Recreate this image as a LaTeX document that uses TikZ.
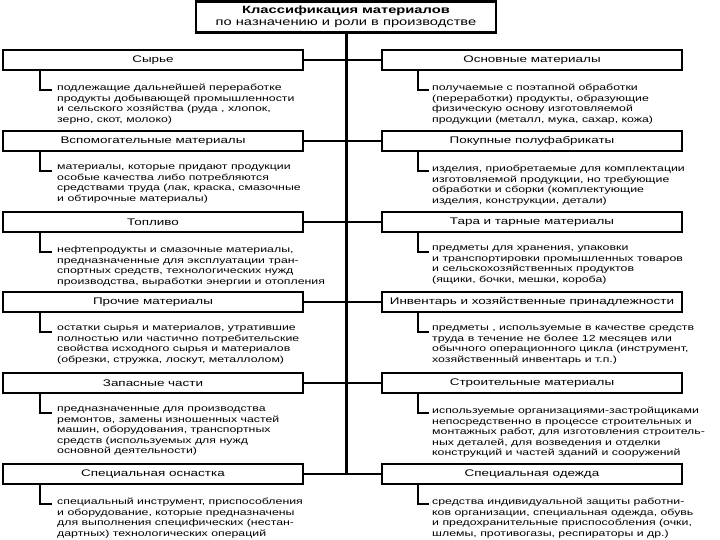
\documentclass[tikz,border=0pt]{standalone}
\usepackage{fontspec}
\setmainfont[FakeStretch=1.4]{Liberation Sans}
\begin{document}
\begin{tikzpicture}[x=1pt,y=-1pt,
  hbox/.style={draw, line width=2.4pt, minimum width=300pt, minimum height=20pt, inner sep=0pt, font=\fontsize{9.6}{11}\selectfont},
  tbox/.style={draw, line width=2.4pt, minimum width=300pt, minimum height=31pt, inner sep=0pt, align=center, font=\fontsize{10.5}{11.5}\selectfont},
  desc/.style={anchor=north west, align=left, inner sep=0pt, font=\fontsize{8.8}{10.5}\selectfont},
  trunk/.style={line width=3pt},
  branch/.style={line width=1.4pt},
  lconn/.style={line width=2.2pt}
]
\useasboundingbox (0,0) rectangle (720,540);
\node[tbox] (t) at (346,17) {\textbf{Классификация материалов}\\по назначению и роли в производстве};

% left boxes
\node[hbox] (l1) at (153,60)  {Сырье};
\node[hbox] (l2) at (153,141) {Вспомогательные материалы};
\node[hbox] (l3) at (153,222) {Топливо};
\node[hbox] (l4) at (153,302) {Прочие материалы};
\node[hbox] (l5) at (153,383) {Запасные части};
\node[hbox] (l6) at (153,474) {Специальная оснастка};
% right boxes
\node[hbox] (r1) at (532,60)  {Основные материалы};
\node[hbox] (r2) at (532,141) {Покупные полуфабрикаты};
\node[hbox] (r3) at (532,222) {Тара и тарные материалы};
\node[hbox] (r4) at (532,302) {Инвентарь и хозяйственные принадлежности};
\node[hbox] (r5) at (532,383) {Строительные материалы};
\node[hbox] (r6) at (532,474) {Специальная одежда};

% trunk
\coordinate (tend) at (346,474);
\draw[trunk] (t.south) -- (tend);
\foreach \i in {1,...,6}{
  \draw[branch] (l\i.east) -- (l\i.east -| t.south);
  \draw[branch] (r\i.west) -- (r\i.west -| t.south);
}

% descriptions left
\node[desc] (dl1) at (57,84) {подлежащие дальнейшей переработке\\продукты  добывающей промышленности\\и сельского хозяйства (руда , хлопок,\\зерно, скот, молоко)};
\node[desc] (dl2) at (57,165) {материалы, которые придают продукции\\особые качества либо потребляются\\средствами труда (лак, краска, смазочные\\и обтирочные материалы)};
\node[desc] (dl3) at (57,246) {нефтепродукты и смазочные материалы,\\предназначенные для эксплуатации тран-\\спортных средств, технологических нужд\\производства, выработки энергии и отопления};
\node[desc] (dl4) at (57,326) {остатки сырья и материалов, утратившие\\полностью или частично потребительские\\свойства исходного сырья и  материалов\\(обрезки, стружка, лоскут, металлолом)};
\node[desc] (dl5) at (57,407) {предназначенные для производства\\ремонтов, замены изношенных частей\\машин, оборудования, транспортных\\средств  (используемых для нужд\\основной деятельности)};
\node[desc] (dl6) at (57,498) {специальный инструмент, приспособления\\и оборудование, которые предназначены\\для выполнения специфических  (нестан-\\дартных) технологических операций};
% descriptions right
\node[desc] (dr1) at (432,84) {получаемые с поэтапной обработки\\(переработки) продукты, образующие\\физическую основу изготовляемой\\продукции (металл, мука, сахар, кожа)};
\node[desc] (dr2) at (432,165) {изделия, приобретаемые для комплектации\\изготовляемой продукции, но требующие\\обработки и сборки (комплектующие\\изделия, конструкции, детали)};
\node[desc] (dr3) at (432,246) {предметы  для  хранения, упаковки\\и транспортировки промышленных товаров\\и сельскохозяйственных продуктов\\(ящики, бочки, мешки, короба)};
\node[desc] (dr4) at (432,326) {предметы , используемые в качестве средств\\труда в течение  не более 12 месяцев или\\обычного операционного  цикла  (инструмент,\\хозяйственный инвентарь и т.п.)};
\node[desc] (dr5) at (432,407) {используемые организациями-застройщиками\\непосредственно в процессе строительных и\\монтажных работ, для изготовления строитель-\\ных деталей, для возведения и отделки\\конструкций и частей зданий и сооружений};
\node[desc] (dr6) at (432,498) {средства индивидуальной защиты работни-\\ков организации, специальная одежда, обувь\\и предохранительные приспособления (очки,\\шлемы, противогазы, респираторы и др.)};

% L connectors
\foreach \i in {1,...,6}{
  \draw[lconn] ([xshift=38pt]l\i.south west) |- ([xshift=-5pt,yshift=-6pt]dl\i.north west);
  \draw[lconn] ([xshift=37pt]r\i.south west) |- ([xshift=-3pt,yshift=-6pt]dr\i.north west);
}
\end{tikzpicture}
\end{document}
